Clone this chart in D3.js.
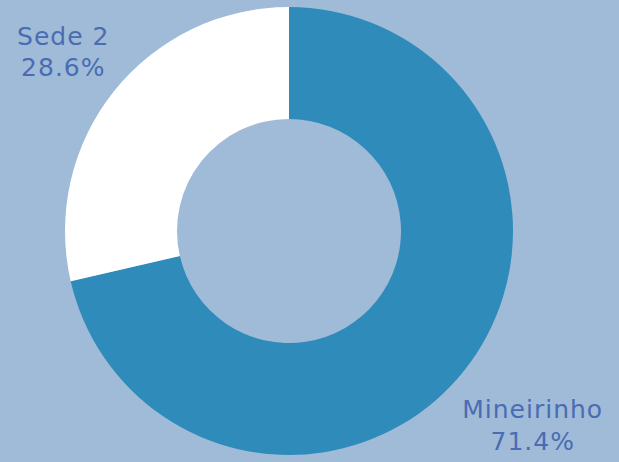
<!DOCTYPE html>
<html>
<head>
<meta charset="utf-8">
<script src="https://cdn.jsdelivr.net/npm/d3@7"></script>
<style>
  html, body { margin: 0; padding: 0; background: #a0bbd8; }
  svg { display: block; }
</style>
</head>
<body>
<script>
// data
var labels = ["Mineirinho", "Sede 2"];
var values = [71.4, 28.6];
var colors = ["#2e8bba", "#ffffff"];

var width = 619, height = 462;
var cx = 289, cy = 231;
var outerR = 224, innerR = 112;

var svg = d3.select("body").append("svg")
    .attr("width", width)
    .attr("height", height);

var g = svg.append("g")
    .attr("transform", "translate(" + cx + "," + cy + ")");

var pie = d3.pie().sort(null).value(function(d) { return d.value; });
var data = labels.map(function(l, i) { return {label: l, value: values[i], color: colors[i]}; });
var arcs = pie(data);

var arc = d3.arc().innerRadius(innerR).outerRadius(outerR);
var labelArc = d3.arc().innerRadius(300).outerRadius(300);

g.selectAll("path.slice")
    .data(arcs)
    .enter().append("path")
    .attr("class", "slice")
    .attr("d", arc)
    .attr("fill", function(d) { return d.data.color; });

//labels outside the ring
var lab = g.selectAll("text.lbl")
    .data(arcs)
    .enter().append("text")
    .attr("class", "lbl")
    .attr("transform", function(d) {
        var c = labelArc.centroid(d);
        return "translate(" + (c[0] + 9) + "," + (c[1] + 8) + ")";
    })
    .attr("text-anchor", "middle")
    .style("font-family", "'DejaVu Sans', sans-serif")
    .style("font-size", "25px")
    .style("letter-spacing", "1px")
    .style("fill", "#4a6cb3");

lab.append("tspan")
    .attr("x", 0)
    .attr("dy", "-0.3em")
    .text(function(d) { return d.data.label; });
lab.append("tspan")
    .attr("x", 0)
    .attr("dy", "1.25em")
    .text(function(d) { return d.data.value.toFixed(1) + "%"; });
</script>
</body>
</html>
